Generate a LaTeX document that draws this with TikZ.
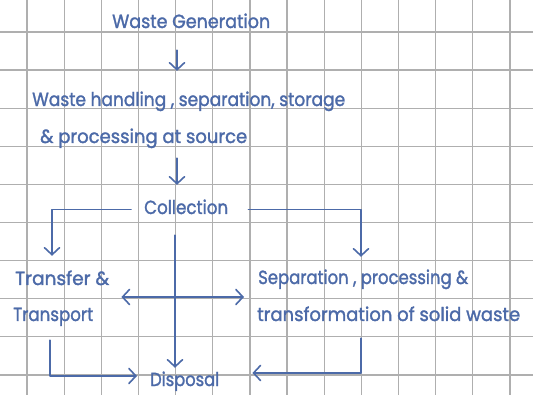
\documentclass[tikz,border=0pt]{standalone}
\usepackage{fontspec}
\setmainfont{Poppins}
\newfontfamily\hand{Poppins}[FakeBold=1.6]
\usetikzlibrary{arrows.meta}
\definecolor{ink}{RGB}{76,106,168}
\definecolor{gridc}{RGB}{175,175,175}
\newsavebox\hwbox
\newcommand\fitw[2]{\sbox\hwbox{#2}\pgfmathsetmacro\hwfac{#1/\the\wd\hwbox}\scalebox{\hwfac}[1]{\usebox\hwbox}}
\begin{document}
\begin{tikzpicture}[x=1pt,y=-1pt,
  gridline/.style={draw=gridc, line width=1.3pt},
  lbl/.style={inner sep=0pt, anchor=base west, text height=13pt, text depth=4pt,
    font=\hand\fontsize{19}{22}\selectfont, text=ink},
  arr/.style={draw=ink, line width=1.6pt, line cap=round, line join=round,
    -{Straight Barb[length=7pt,width=15pt,line cap=round]}},
  darr/.style={draw=ink, line width=1.6pt, line cap=round,
    {Straight Barb[length=7pt,width=15pt,line cap=round]}-{Straight Barb[length=7pt,width=15pt,line cap=round]}}]
\useasboundingbox (0,0) rectangle (533,395);
\fill[white] (0,0) rectangle (533,395);
\foreach \i in {0,...,13} \draw[gridline] ({27+37.15*\i},0) -- ++(0,395);
\foreach \j in {0,...,9} \draw[gridline] (0,{32+38.1*\j}) -- ++(533,0);

\coordinate (sp) at (177,0);
\coordinate (vx) at (175,0);
\coordinate (hy) at (0,297);

\node[lbl] (gen) at (112,28) {\fitw{158}{Waste Generation}};
\node[lbl] (hand1) at (32,106) {\fitw{313}{Waste handling , separation, storage}};
\node[lbl] (hand2) at (40,143) {\fitw{207}{\& processing at source}};
\node[lbl] (coll) at (144,214) {\fitw{84}{Collection}};
\node[lbl] (tr1) at (15,285) {\fitw{94}{Transfer \&}};
\node[lbl] (tr2) at (13,321) {\fitw{80}{Transport}};
\node[lbl] (sp1) at (258,284) {\fitw{210}{Separation , processing \&}};
\node[lbl] (sp2) at (257,321) {\fitw{263}{transformation of solid waste}};
\node[lbl] (disp) at (150,386) {\fitw{69}{Disposal}};

\draw[arr, shorten <=18pt, shorten >=22pt] (gen.south -| sp) -- (hand1.north -| sp);
\draw[arr, shorten <=11pt, shorten >=16pt] (hand2.south -| sp) -- (coll.north -| sp);
\draw[arr, shorten <=13pt, shorten >=16pt] (coll.west) -| ([xshift=37pt]tr1.north west);
\draw[arr, shorten <=20pt, shorten >=14pt] (coll.east) -| ([xshift=103pt]sp1.north west);
\draw[arr, shorten <=17pt, shorten >=5pt] (coll.south -| vx) -- (disp.north -| vx);
\draw[darr, shorten <=12pt, shorten >=13pt] (tr1.east |- hy) -- (sp2.west |- hy);
\draw[arr, shorten <=15pt, shorten >=13pt] ([xshift=37pt]tr2.south west) |- ([yshift=5.5pt]disp.west);
\draw[arr, shorten <=13pt, shorten >=33pt] ([xshift=104pt]sp2.south west) |- ([yshift=8.5pt]disp.east);
\end{tikzpicture}
\end{document}
